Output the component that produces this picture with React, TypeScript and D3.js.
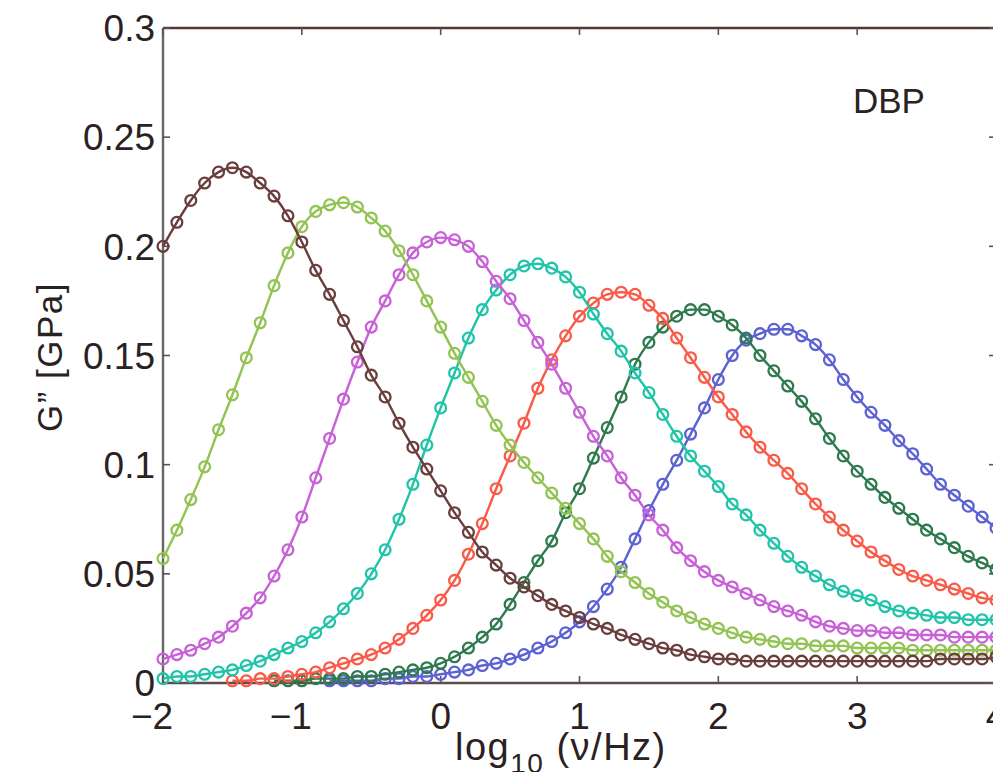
import React, { useEffect, useRef } from 'react';
import * as d3 from 'd3';

// log10 frequency grid step (decades) shared by every series
const STEP = 0.1;

const X_TICKS = [-2, -1, 0, 1, 2, 3, 4];
const X_TICK_LABELS = ['\u22122', '\u22121', '0', '1', '2', '3', '4'];
const Y_TICKS = [0, 0.05, 0.1, 0.15, 0.2, 0.25, 0.3];
const Y_TICK_LABELS = ['0', '0.05', '0.1', '0.15', '0.2', '0.25', '0.3'];

// G'' [GPa], one value per 0.1 decade
const brownStart = -2.0;
const brownValues = [
  0.200, 0.211, 0.221, 0.229, 0.234, 0.236, 0.234, 0.229, 0.223, 0.214,
  0.202, 0.189, 0.178, 0.166, 0.154, 0.141, 0.131, 0.119, 0.108, 0.098,
  0.088, 0.078, 0.069, 0.060, 0.054, 0.048, 0.044, 0.040, 0.036, 0.033,
  0.030, 0.027, 0.025, 0.022, 0.020, 0.018, 0.016, 0.015, 0.013, 0.012,
  0.011, 0.011, 0.010, 0.010, 0.010, 0.010, 0.010, 0.010, 0.010, 0.010,
  0.010, 0.010, 0.010, 0.010, 0.010, 0.010, 0.011, 0.011, 0.011, 0.011, 0.012,
];

const greenStart = -2.0;
const greenValues = [
  0.057, 0.070, 0.084, 0.099, 0.116, 0.132, 0.149, 0.165, 0.182, 0.197,
  0.209, 0.216, 0.219, 0.220, 0.218, 0.213, 0.207, 0.198, 0.187, 0.175,
  0.163, 0.151, 0.140, 0.129, 0.118, 0.109, 0.101, 0.094, 0.087, 0.080,
  0.073, 0.066, 0.058, 0.051, 0.046, 0.041, 0.037, 0.033, 0.030, 0.027,
  0.025, 0.023, 0.021, 0.020, 0.019, 0.018, 0.018, 0.017, 0.017, 0.017,
  0.016, 0.016, 0.016, 0.016, 0.015, 0.015, 0.015, 0.015, 0.015, 0.015, 0.015,
];

const magentaStart = -2.0;
const magentaValues = [
  0.011, 0.013, 0.015, 0.018, 0.021, 0.026, 0.032, 0.039, 0.049, 0.061,
  0.076, 0.094, 0.112, 0.130, 0.147, 0.163, 0.175, 0.187, 0.197, 0.202,
  0.204, 0.203, 0.200, 0.193, 0.184, 0.176, 0.166, 0.156, 0.146, 0.135,
  0.124, 0.113, 0.104, 0.094, 0.086, 0.077, 0.070, 0.062, 0.056, 0.051,
  0.047, 0.044, 0.041, 0.038, 0.035, 0.033, 0.031, 0.028, 0.026, 0.025,
  0.024, 0.024, 0.023, 0.023, 0.022, 0.022, 0.022, 0.021, 0.021, 0.021, 0.021,
];

const cyanStart = -2.0;
const cyanValues = [
  0.002, 0.003, 0.003, 0.004, 0.005, 0.006, 0.008, 0.010, 0.013, 0.016,
  0.019, 0.023, 0.028, 0.034, 0.041, 0.050, 0.061, 0.075, 0.091, 0.109,
  0.126, 0.142, 0.158, 0.171, 0.180, 0.187, 0.191, 0.192, 0.190, 0.186,
  0.179, 0.169, 0.160, 0.152, 0.142, 0.133, 0.123, 0.113, 0.104, 0.097,
  0.090, 0.082, 0.077, 0.070, 0.064, 0.058, 0.053, 0.049, 0.045, 0.042,
  0.040, 0.038, 0.035, 0.033, 0.032, 0.031, 0.030, 0.030, 0.029, 0.029, 0.029,
];

const redStart = -1.5;
const redValues = [
  0.001, 0.001, 0.002, 0.002, 0.003,
  0.004, 0.005, 0.007, 0.009, 0.011, 0.013, 0.016, 0.020, 0.025, 0.031,
  0.038, 0.047, 0.059, 0.073, 0.089, 0.104, 0.119, 0.135, 0.148, 0.159,
  0.168, 0.174, 0.178, 0.179, 0.178, 0.173, 0.167, 0.158, 0.149, 0.140,
  0.131, 0.123, 0.115, 0.108, 0.102, 0.096, 0.089, 0.082, 0.076, 0.070,
  0.065, 0.060, 0.056, 0.052, 0.049, 0.047, 0.045, 0.043, 0.041, 0.039, 0.038,
];

const darkGreenStart = -1.2;
const darkGreenValues = [
  0.001, 0.001,
  0.001, 0.002, 0.002, 0.002, 0.003, 0.003, 0.004, 0.005, 0.006, 0.007,
  0.009, 0.012, 0.016, 0.021, 0.027, 0.036, 0.046, 0.056, 0.065, 0.078,
  0.089, 0.103, 0.117, 0.131, 0.146, 0.156, 0.163, 0.168, 0.171, 0.171,
  0.168, 0.164, 0.158, 0.150, 0.143, 0.136, 0.129, 0.121, 0.112, 0.104,
  0.097, 0.091, 0.085, 0.080, 0.075, 0.070, 0.066, 0.062, 0.058, 0.055, 0.052,
];

const blueStart = -0.8;
const blueValues = [
  0.001, 0.001, 0.001, 0.001, 0.002, 0.002, 0.003, 0.003,
  0.004, 0.005, 0.006, 0.008, 0.009, 0.011, 0.013, 0.016, 0.019, 0.023,
  0.028, 0.035, 0.043, 0.053, 0.066, 0.079, 0.091, 0.102, 0.114, 0.126,
  0.139, 0.150, 0.157, 0.160, 0.162, 0.162, 0.159, 0.155, 0.148, 0.139,
  0.131, 0.124, 0.118, 0.111, 0.105, 0.098, 0.091, 0.086, 0.081, 0.076, 0.071,
];

const SERIES = [
  { color: '#5c62d4', start: blueStart, values: blueValues },
  { color: '#2e7a4e', start: darkGreenStart, values: darkGreenValues },
  { color: '#fa5a48', start: redStart, values: redValues },
  { color: '#20c4a8', start: cyanStart, values: cyanValues },
  { color: '#c860d8', start: magentaStart, values: magentaValues },
  { color: '#92c353', start: greenStart, values: greenValues },
  { color: '#6b3e3e', start: brownStart, values: brownValues },
];

const FONT = '"Liberation Sans", Arial, Helvetica, sans-serif';

export default function App() {
  const node = useRef<SVGSVGElement | null>(null);

  useEffect(() => {
    const width = 993;
    const height = 772;
    const margin = { top: 28, left: 163, right: 996, bottom: 683 };

    const svg = d3.select(node.current);
    svg.selectAll('*').remove();
    svg.attr('width', width).attr('height', height);

    svg.append('rect').attr('width', width).attr('height', height).attr('fill', '#fff');

    const x = d3.scaleLinear().domain([-2, 4]).range([margin.left, margin.right]);
    const y = d3.scaleLinear().domain([0, 0.3]).range([margin.bottom, margin.top]);

    // frame
    svg.append('line')
      .attr('x1', margin.left).attr('x2', margin.right)
      .attr('y1', margin.top).attr('y2', margin.top)
      .attr('stroke', '#5a3434').attr('stroke-width', 2.4);
    svg.append('line')
      .attr('x1', margin.left).attr('x2', margin.right)
      .attr('y1', margin.bottom).attr('y2', margin.bottom)
      .attr('stroke', '#5e4c4c').attr('stroke-width', 2.4);
    svg.append('line')
      .attr('x1', margin.left).attr('x2', margin.left)
      .attr('y1', margin.top).attr('y2', margin.bottom)
      .attr('stroke', '#666').attr('stroke-width', 2.4);
    svg.append('line')
      .attr('x1', margin.right).attr('x2', margin.right)
      .attr('y1', margin.top).attr('y2', margin.bottom)
      .attr('stroke', '#666').attr('stroke-width', 2.4);

    // inward ticks
    const tick = 7;
    const ticks = svg.append('g').attr('stroke', '#555').attr('stroke-width', 1.6);
    X_TICKS.forEach(t => {
      ticks.append('line').attr('x1', x(t)).attr('x2', x(t))
        .attr('y1', margin.bottom).attr('y2', margin.bottom - tick);
      ticks.append('line').attr('x1', x(t)).attr('x2', x(t))
        .attr('y1', margin.top).attr('y2', margin.top + tick);
    });
    Y_TICKS.forEach(t => {
      ticks.append('line').attr('x1', margin.left).attr('x2', margin.left + tick)
        .attr('y1', y(t)).attr('y2', y(t));
      ticks.append('line').attr('x1', margin.right).attr('x2', margin.right - tick)
        .attr('y1', y(t)).attr('y2', y(t));
    });

    // curves
    const line = d3.line<[number, number]>()
      .x(d => x(d[0]))
      .y(d => y(d[1]))
      .curve(d3.curveMonotoneX);

    SERIES.forEach(s => {
      const pts: [number, number][] = s.values.map((v, i) => [s.start + i * STEP, v]);
      const g = svg.append('g');
      g.append('path')
        .datum(pts)
        .attr('d', line)
        .attr('fill', 'none')
        .attr('stroke', s.color)
        .attr('stroke-width', 2.4);
      g.selectAll('circle')
        .data(pts)
        .enter()
        .append('circle')
        .attr('cx', d => x(d[0]))
        .attr('cy', d => y(d[1]))
        .attr('r', 5.4)
        .attr('fill', 'none')
        .attr('stroke', s.color)
        .attr('stroke-width', 2.3);
    });

    // tick labels
    const labels = svg.append('g')
      .attr('font-family', FONT)
      .attr('font-size', 37)
      .attr('fill', '#2a2222');
    Y_TICKS.forEach((t, i) => {
      labels.append('text')
        .attr('x', margin.left - 8)
        .attr('y', y(t))
        .attr('dy', '0.36em')
        .attr('text-anchor', 'end')
        .text(Y_TICK_LABELS[i]);
    });
    X_TICKS.forEach((t, i) => {
      labels.append('text')
        .attr('x', x(t) - (t < 0 ? 11 : 0))
        .attr('y', 729)
        .attr('text-anchor', 'middle')
        .text(X_TICK_LABELS[i]);
    });

    // axis titles
    const xt = svg.append('text')
      .attr('x', 455)
      .attr('y', 760)
      .attr('font-family', FONT)
      .attr('font-size', 38)
      .attr('letter-spacing', 1.5)
      .attr('fill', '#2a2222');
    xt.append('tspan').text('log');
    xt.append('tspan').attr('font-size', 28).attr('dy', 13).text('10');
    xt.append('tspan').attr('dy', -13).text(' (\u03bd/Hz)');

    svg.append('text')
      .attr('transform', 'translate(62,357) rotate(-90)')
      .attr('text-anchor', 'middle')
      .attr('font-family', FONT)
      .attr('font-size', 35)
      .attr('letter-spacing', 1.5)
      .attr('fill', '#2a2222')
      .text('G\u201D [GPa]');

    svg.append('text')
      .attr('x', 853)
      .attr('y', 113)
      .attr('font-family', FONT)
      .attr('font-size', 35)
      .attr('fill', '#2a2222')
      .text('DBP');
  }, []);

  return (
    <svg
      ref={node}
      style={{ position: 'absolute', left: 0, top: 0, display: 'block' }}
    />
  );
}
